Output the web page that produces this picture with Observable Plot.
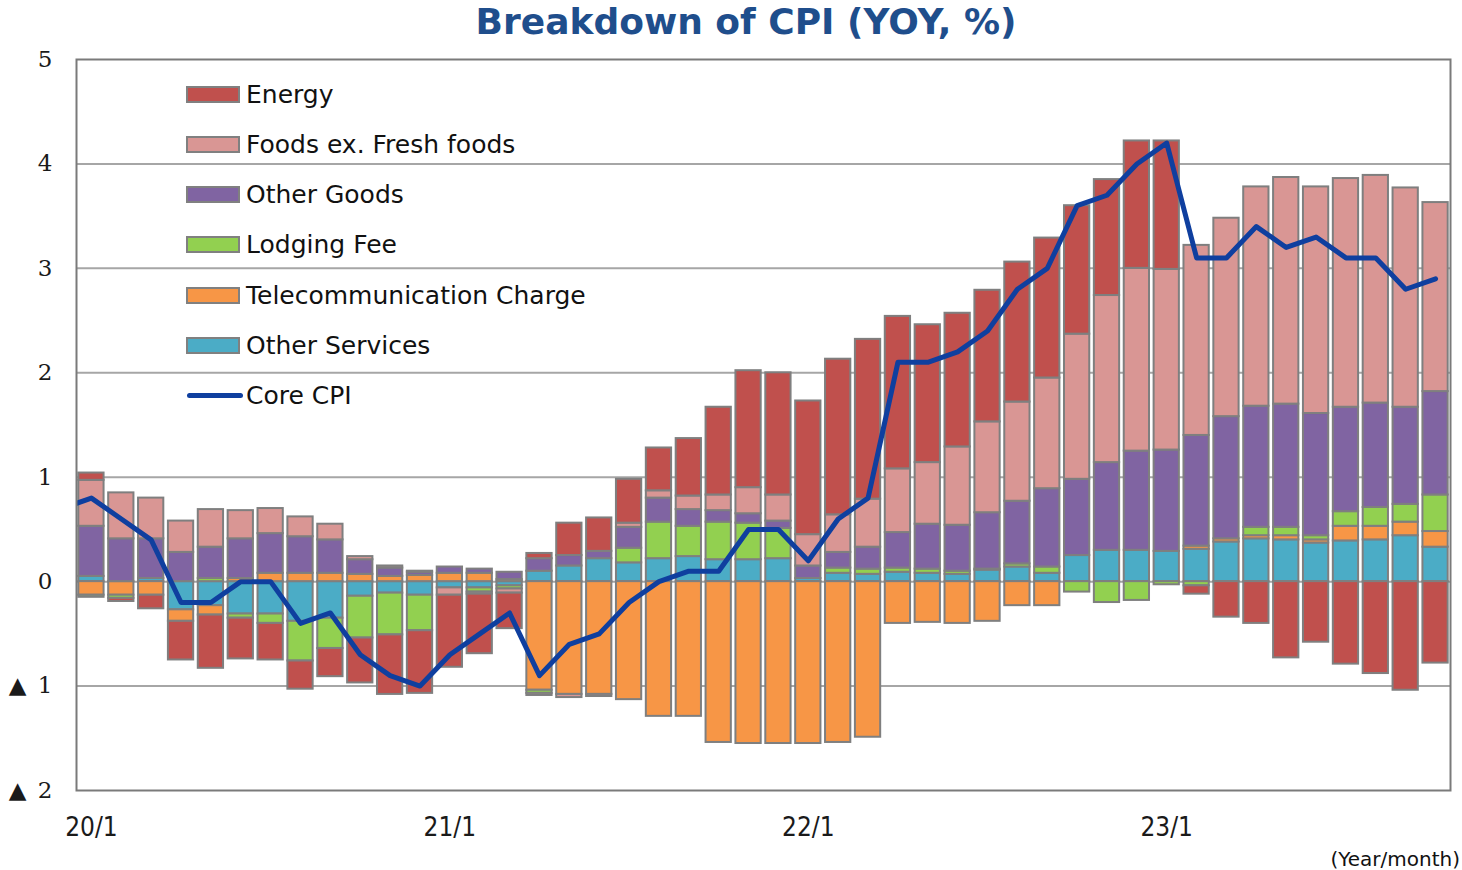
<!DOCTYPE html>
<html>
<head>
<meta charset="utf-8">
<script src="https://cdn.jsdelivr.net/npm/d3@7"></script>
<script src="https://cdn.jsdelivr.net/npm/@observablehq/plot@0.6"></script>
<style>
  html, body { margin: 0; padding: 0; background: #fff; }
  #wrap { position: relative; width: 1462px; height: 870px; overflow: hidden; }
  #chart { position: absolute; left: 0; top: 0; }
  #title { position: absolute; left: 0; top: 4px; width: 1492px; text-align: center;
           font: bold 36px/36px "DejaVu Sans", sans-serif; color: #1f4e8c; }
  .lg-row { position: absolute; left: 186px; height: 25px; }
  .lg-sw { position: absolute; left: 0; top: 4px; width: 54px; height: 17px; box-sizing: border-box;
           border: 2px solid #808080; }
  .lg-line { position: absolute; left: 1px; top: 10px; width: 56px; height: 5px; border-radius: 3px; }
  .lg-tx { position: absolute; left: 60px; top: 0; white-space: nowrap;
           font: 25px/25px "DejaVu Sans", sans-serif; color: #111; }
  #unit { position: absolute; right: 2px; top: 849px; font: 20px/20px "DejaVu Sans", sans-serif; color: #111; }
</style>
</head>
<body>
<div id="wrap">
  <div id="chart"></div>
  <div id="title">Breakdown of CPI (YOY, %)</div>
  <div id="legend"></div>
  <div id="unit">(Year/month)</div>
</div>
<script>
// Contributions (percentage points), monthly 2020/1 .. 2023/10
const otherServices = [0.05,0,0.03,-0.27,-0.23,-0.31,-0.31,-0.38,-0.35,-0.14,-0.11,-0.13,
  -0.06,-0.06,-0.04,0.10,0.15,0.22,0.18,0.22,0.24,0.21,0.21,0.22,
  0.03,0.08,0.07,0.09,0.08,0.07,0.11,0.14,0.08,0.25,0.30,0.30,
  0.29,0.31,0.38,0.41,0.40,0.37,0.39,0.40,0.44,0.33];
const telecom = [-0.13,-0.13,-0.13,-0.11,-0.09,0.03,0.08,0.08,0.08,0.07,0.05,0.06,
  0.08,0.08,0.02,-1.04,-1.08,-1.08,-1.13,-1.29,-1.29,-1.54,-1.55,-1.55,
  -1.55,-1.54,-1.49,-0.40,-0.39,-0.40,-0.38,-0.23,-0.23,0,0,0,
  0,0.03,0.03,0.03,0.04,0.03,0.14,0.13,0.13,0.15];
const lodging = [-0.02,-0.03,0,0,0.03,-0.04,-0.09,-0.38,-0.29,-0.40,-0.40,-0.34,
  0,-0.04,-0.03,-0.03,0,0,0.14,0.35,0.29,0.36,0.35,0.29,
  0,0.05,0.05,0.04,0.04,0.03,0.01,0.03,0.06,-0.10,-0.20,-0.18,
  -0.03,-0.04,0,0.08,0.08,0.04,0.14,0.18,0.17,0.35];
const otherGoods = [0.48,0.41,0.38,0.28,0.30,0.38,0.38,0.35,0.32,0.14,0.08,0.03,
  0.06,0.04,0.07,0.12,0.10,0.07,0.20,0.23,0.16,0.11,0.09,0.07,
  0.12,0.15,0.21,0.34,0.43,0.44,0.54,0.60,0.75,0.73,0.84,0.95,
  0.97,1.06,1.17,1.16,1.18,1.17,1.00,1.00,0.93,0.99];
const foods = [0.44,0.44,0.39,0.30,0.36,0.27,0.24,0.19,0.15,0.03,0.02,0.01,
  -0.07,-0.02,-0.04,-0.02,-0.03,-0.02,0.04,0.07,0.13,0.15,0.25,0.25,
  0.30,0.36,0.46,0.61,0.59,0.75,0.87,0.95,1.06,1.39,1.60,1.75,
  1.73,1.82,1.90,2.10,2.17,2.17,2.19,2.18,2.10,1.81];
const energy = [0.07,-0.03,-0.13,-0.37,-0.51,-0.39,-0.35,-0.27,-0.27,-0.43,-0.57,-0.60,
  -0.69,-0.57,-0.34,0.05,0.31,0.32,0.42,0.41,0.55,0.84,1.12,1.17,
  1.28,1.49,1.53,1.46,1.32,1.28,1.26,1.34,1.34,1.23,1.11,1.22,
  1.23,-0.08,-0.34,-0.40,-0.73,-0.58,-0.79,-0.88,-1.04,-0.78];
// Core CPI, 2019/12 .. 2023/10 (first value sits just left of the plot and is clipped)
const coreCPI = [0.7,
  0.8,0.6,0.4,-0.2,-0.2,0.0,0.0,-0.4,-0.3,-0.7,-0.9,-1.0,
  -0.7,-0.5,-0.3,-0.9,-0.6,-0.5,-0.2,0.0,0.1,0.1,0.5,0.5,
  0.2,0.6,0.8,2.1,2.1,2.2,2.4,2.8,3.0,3.6,3.7,4.0,
  4.2,3.1,3.1,3.4,3.2,3.3,3.1,3.1,2.8,2.9];
const xTickLabels = ["20/1", "21/1", "22/1", "23/1"];
const yTicks = [5, 4, 3, 2, 1, 0, -1, -2];
const gridValues = [-1, 0, 1, 2, 3, 4];

const seriesNames = ["Other Services", "Telecommunication Charge", "Lodging Fee", "Other Goods", "Foods ex. Fresh foods", "Energy"];
const seriesColors = ["#4BACC6", "#F79646", "#92D050", "#8064A2", "#D99694", "#C0504D"];
const seriesValues = [otherServices, telecom, lodging, otherGoods, foods, energy];
const coreColor = "#0f3f9f";

const N = energy.length;
const rows = [];
seriesNames.forEach((name, k) => {
  seriesValues[k].forEach((v, i) => { if (v !== 0) rows.push({i, series: name, v}); });
});
const coreRows = coreCPI.map((v, j) => ({i: j - 1, v}));

const chart = Plot.plot({
  width: 1462,
  height: 870,
  marginLeft: 76,
  marginRight: 12,
  marginTop: 59,
  marginBottom: 80,
  style: {fontFamily: "'DejaVu Serif', serif", fontSize: "23px", color: "#1a1a1a", background: "transparent"},
  x: {domain: [0, N], axis: null, label: null},
  y: {domain: [-2, 5], axis: null, label: null},
  color: {domain: seriesNames, range: seriesColors},
  marks: [
    Plot.ruleY(gridValues, {stroke: "#a6a6a6", strokeWidth: 2}),
    Plot.rectY(rows, Plot.stackY({
      x1: "i", x2: d => d.i + 1, y: "v", fill: "series",
      stroke: "#7f7f7f", strokeWidth: 2, insetLeft: 2.3, insetRight: 2.3
    })),
    Plot.line(coreRows, {x: d => d.i + 0.5, y: "v", stroke: coreColor, strokeWidth: 5, clip: true}),
    Plot.frame({stroke: "#7a7a7a", strokeWidth: 2}),
    Plot.axisY({
      ticks: yTicks, tickSize: 0, tickPadding: 24, label: null,
      tickFormat: d => d < 0 ? "\u25B2\u2002" + (-d) : String(d),
      fontFamily: "'DejaVu Serif', serif", fontSize: 23
    }),
    Plot.axisX({
      ticks: xTickLabels.map((_, k) => k * 12 + 0.5), tickSize: 0, tickPadding: 27, label: null,
      tickFormat: d => xTickLabels[Math.round((d - 0.5) / 12)],
      fontFamily: "'DejaVu Sans Condensed', 'DejaVu Sans', sans-serif", fontSize: 26
    })
  ]
});
document.getElementById("chart").appendChild(chart);

// Legend (inside the plot, top-left)
const legendItems = [...seriesNames].reverse().map((n, k) => ({name: n, color: seriesColors[seriesNames.length - 1 - k], line: false}));
legendItems.push({name: "Core CPI", color: coreColor, line: true});
const lg = document.getElementById("legend");
legendItems.forEach((it, k) => {
  const row = document.createElement("div");
  row.className = "lg-row";
  row.style.top = (94 + 50.3 * k - 12.5) + "px";
  const sw = document.createElement("div");
  if (it.line) { sw.className = "lg-line"; sw.style.background = it.color; }
  else { sw.className = "lg-sw"; sw.style.background = it.color; }
  const tx = document.createElement("div");
  tx.className = "lg-tx";
  tx.textContent = it.name;
  row.appendChild(sw); row.appendChild(tx);
  lg.appendChild(row);
});
</script>
</body>
</html>
